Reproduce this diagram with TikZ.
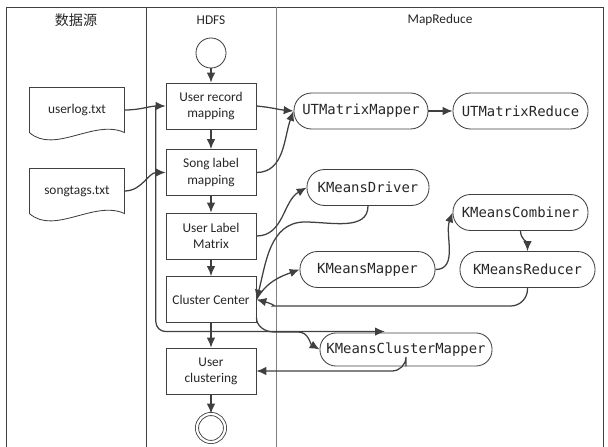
\documentclass[tikz,border=0pt]{standalone}
\usepackage{fontspec}
\setmainfont{Carlito}
\setmonofont{DejaVu Sans Mono}
\newfontfamily\cjkfont{Noto Sans CJK SC}
\usepackage{xcolor}
\usetikzlibrary{shapes,arrows,positioning,calc,arrows.meta}
\definecolor{linegray}{HTML}{404040}
\definecolor{lanegray}{HTML}{808080}

\begin{document}
\begin{tikzpicture}[auto, x=0.025cm, y=-0.025cm, >={Latex[length=7pt,width=6pt]}, thick,
    every node/.style={font=\fontsize{9.5}{11.5}\selectfont, text=black!85},
    hdfsbox/.style={draw=linegray, line width=0.6pt, minimum width=2.25cm, minimum height=1.15cm, align=center},
    mrbox/.style={draw=linegray, line width=0.6pt, rounded corners=0.44cm, minimum height=0.9cm, font=\ttfamily\fontsize{9.9}{12}\selectfont},
    doc/.style={minimum width=2.35cm, minimum height=1.1cm},
    flow/.style={->, draw=linegray, line width=0.9pt}]
    \useasboundingbox (0,0) rectangle (608,447);

    % swimlanes
    \draw[linegray, line width=0.7pt] (6,447) -- (6,7) -- (603,7) -- (603,447);
    \draw[linegray, line width=0.7pt] (146,7) -- (146,447);
    \draw[lanegray, line width=0.7pt] (276,7) -- (276,447);
    \node (hsrc) at (76,20) {\cjkfont\fontsize{10}{12}\selectfont 数据源};
    \node (hhdfs) at (211,20) {HDFS};
    \node (hmr) at (440,20) {MapReduce};

    % data sources
    \node [doc] (userlog) at (77,110) {userlog.txt};
    \node [doc] (songtags) at (77,191) {songtags.txt};
    \foreach \d in {userlog,songtags}
        \draw[linegray, line width=0.6pt] (\d.south west) -- (\d.north west) -- (\d.north east) -- (\d.south east)
            .. controls +(-30,-14) and +(25,22) .. (\d.south west);

    % HDFS
    \node [draw=linegray, line width=0.6pt, circle, minimum size=0.75cm] (start) at (211,53) {};
    \node [hdfsbox] (urm) at (211,106) {User record\\mapping};
    \node [hdfsbox] (slm) at (211,172.5) {Song label\\mapping};
    \node [hdfsbox] (ulm) at (211,236) {User Label\\Matrix};
    \node [hdfsbox] (cc) at (211,299.5) {Cluster Center};
    \node [hdfsbox] (uc) at (211,371) {User\\clustering};
    \node [draw=linegray, line width=0.6pt, circle, double, double distance=1.6pt, minimum size=0.7cm] (stop) at (211,428) {};

    % MapReduce
    \node [mrbox, minimum width=3.35cm] (utm) at (361,111) {UTMatrixMapper};
    \node [mrbox, minimum width=3.375cm] (utr) at (520.5,111) {UTMatrixReduce};
    \node [mrbox, minimum width=3.05cm] (kd) at (368,187.5) {KMeansDriver};
    \node [mrbox, minimum width=3.375cm] (kc) at (520.5,212.5) {KMeansCombiner};
    \node [mrbox, minimum width=3.375cm] (km) at (367.5,269.5) {KMeansMapper};
    \node [mrbox, minimum width=3.375cm] (kr) at (527.5,269.5) {KMeansReducer};
    \node [mrbox, minimum width=4.3cm, minimum height=0.825cm, rounded corners=0.4cm] (kcm) at (406,349.5) {KMeansClusterMapper};

    \coordinate (kdbend) at (305,222);
    \coordinate (krturn) at (290,306);
    \coordinate (ccturn) at (274,332);
    \coordinate (ccbend) at (298,332);

    % connectors
    \draw[flow] (start) -- (urm);
    \foreach \a/\b in {urm/slm, slm/ulm, ulm/cc, cc/uc, uc/stop}
        \draw[flow] (\a) -- (\b);
    \draw[flow] (userlog.east) to[out=0,in=180] coordinate[pos=0.78] (branch) (urm.west);
    \draw[flow, rounded corners=7] (branch) |- ($(kcm.north)+(-21,-1)$);
    \draw[flow] (songtags.east) to[out=0,in=180] (slm.west);
    \draw[flow] (urm.east) to[out=-5,in=175] (utm.west);
    \draw[flow] (slm.east) to[out=0,in=250] (utm.west);
    \draw[flow] (utm) -- (utr);
    \draw[flow] (ulm.east) to[out=0,in=210] (kd.west);
    \draw[flow] (kd.south) to[out=-90,in=0] (kdbend) to[out=180,in=75] (cc.east);
    \draw[flow] (cc.east) to[out=60,in=200] (km.west);
    \draw[flow] (km.east) to[out=0,in=250] (kc.west);
    \draw[flow] (kc.south) to[out=-90,in=90] (kr.north);
    \draw[flow, rounded corners=12] (kr.south) |- (krturn) to[out=180,in=-15] (cc.east);
    \draw[flow] ($(cc.east)+(0,18)$) to[out=-90,in=180] (ccturn) -- (ccbend) to[out=0,in=150] (kcm.west);
    \draw[flow, rounded corners=10] (kcm.south) |- (uc.east);
\end{tikzpicture}
\end{document}
